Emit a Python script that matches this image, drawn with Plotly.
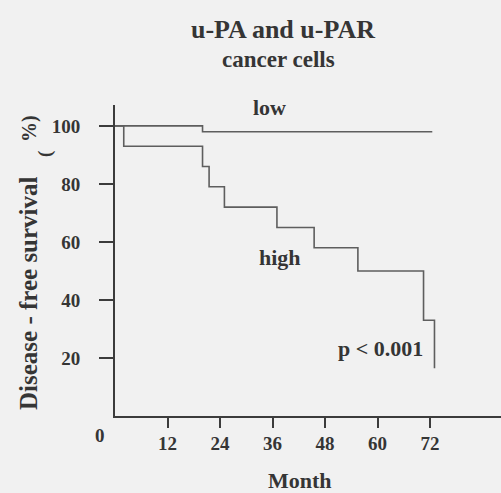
import plotly.graph_objects as go

# Kaplan-Meier step data (months, % disease-free survival)
low_months = [0, 20, 72.5]
low_surv = [100, 98, 98]

high_months = [0, 2, 20, 21.5, 25, 37, 45.5, 55.5, 70.5, 73]
high_surv = [100, 93, 86, 79, 72, 65, 58, 50, 33, 16.5]

x_ticks = [12, 24, 36, 48, 60, 72]
y_ticks = [20, 40, 60, 80, 100]

FONT = "Liberation Serif"
TXT = "#353535"
LINE = "#5e5e5e"
AX = "#3c3c3c"
BG = "#f1f1f1"

fig = go.Figure()
fig.add_trace(go.Scatter(x=low_months, y=low_surv, mode="lines", line_shape="hv",
                         line=dict(color=LINE, width=1.6), showlegend=False, hoverinfo="skip"))
fig.add_trace(go.Scatter(x=high_months, y=high_surv, mode="lines", line_shape="hv",
                         line=dict(color=LINE, width=1.6), showlegend=False, hoverinfo="skip"))

fig.update_layout(
    width=501, height=493,
    margin=dict(l=115, r=0, t=105, b=77),
    paper_bgcolor=BG, plot_bgcolor=BG,
    font=dict(family=FONT, color=TXT),
    xaxis=dict(range=[0, 88.2], tickvals=x_ticks, ticktext=[f"<b>{v}</b>" for v in x_ticks],
               showline=True, linecolor=AX, linewidth=2, ticks="outside", ticklen=10,
               tickwidth=2, tickcolor=AX, showgrid=False, zeroline=False,
               tickfont=dict(family=FONT, size=19, color=TXT), ticklabelstandoff=-1),
    yaxis=dict(range=[0, 107.2], tickvals=y_ticks, ticktext=[f"<b>{v}</b>" for v in y_ticks],
               showline=True, linecolor=AX, linewidth=2, ticks="outside", ticklen=14,
               tickwidth=2, tickcolor=AX, showgrid=False, zeroline=False,
               tickfont=dict(family=FONT, size=19, color=TXT), ticklabelstandoff=15),
)

def px_ann(text, x, y, size, angle=0):
    fig.add_annotation(text=text, xref="paper", yref="paper",
                       x=(x - 115) / 386, y=1 - (y - 105) / 311, textangle=angle,
                       xanchor="center", yanchor="middle", showarrow=False,
                       font=dict(family=FONT, size=size, color=TXT))

px_ann("<b>u-PA and u-PAR</b>", 283, 29, 26)
px_ann("<b>cancer cells</b>", 278, 60, 23)
px_ann("<b>Month</b>", 300, 480, 22)
px_ann("<b>Disease - free survival</b>", 28, 293, 25, -90)
px_ann("<b>%)</b>", 29, 129, 20, -90)
px_ann("<b>(</b>", 45, 154, 19, -90)

# data-anchored labels
fig.add_annotation(text="<b>0</b>", x=0, y=0, xref="x", yref="y", showarrow=False,
                   xshift=-15, yshift=-19, font=dict(family=FONT, size=19, color=TXT))
fig.add_annotation(text="<b>low</b>", x=35.4, y=106.2, showarrow=False,
                   font=dict(family=FONT, size=22, color=TXT))
fig.add_annotation(text="<b>high</b>", x=37.7, y=54.8, showarrow=False,
                   font=dict(family=FONT, size=22, color=TXT))
fig.add_annotation(text="<b>p < 0.001</b>", x=60.6, y=23.4, showarrow=False,
                   font=dict(family=FONT, size=22, color=TXT))

fig.write_html("out.html", config={"displayModeBar": False},
               post_script="document.body.style.margin='0';document.body.style.overflow='hidden';")
